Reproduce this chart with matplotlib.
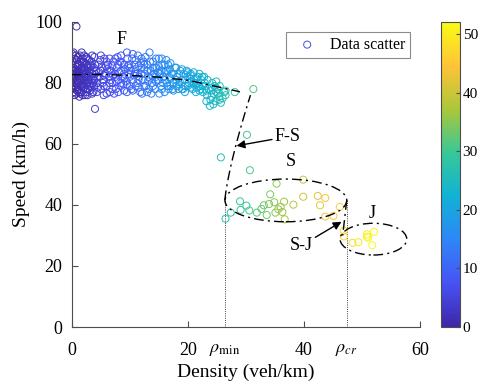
import numpy as np
import matplotlib
matplotlib.use("Agg")
import matplotlib.pyplot as plt
from matplotlib.colors import LinearSegmentedColormap, Normalize
from matplotlib.patches import Ellipse
from matplotlib.transforms import blended_transform_factory

plt.rcParams['font.family'] = ['Liberation Serif', 'DejaVu Serif']
plt.rcParams['mathtext.fontset'] = 'stix'

# ---------------- data ----------------
density_F = [0.2,0.3,0.4,0.5,0.6,0.7,0.8,0.9,1.0,1.1,1.2,1.3,1.4,1.5,1.6,1.7,1.8,1.9,2.0,2.1,2.2,2.3,2.4,2.5,2.6,2.7,2.8,2.9,3.0,3.1,3.2,3.3,3.4,3.5,3.6,3.7,3.8,3.9,4.0,
             0.1,0.3,0.5,0.7,0.9,1.1,1.3,1.5,1.7,1.9,2.1,2.3,2.5,2.7,2.9,3.1,3.3,3.5,3.7,3.9,
             0.2,0.4,0.6,0.8,1.0,1.2,1.4,1.6,1.8,2.0,2.2,2.4,2.6,2.8,3.0,3.2,3.4,3.6,3.8,0.0,0.0,0.1,
             4.2,4.4,4.6,4.8,5.0,5.2,5.4,5.6,5.8,6.0,6.2,6.4,6.6,6.8,7.0,7.2,7.4,7.6,7.8,8.0,8.2,8.4,8.6,8.8,9.0,9.2,9.4,9.6,9.8,10.0,
             4.3,4.9,5.5,6.1,6.7,7.3,7.9,8.5,9.1,9.7,4.7,5.3,5.9,6.5,7.1,7.7,8.3,8.9,9.5,9.9,
             10.2,10.4,10.6,10.8,11.0,11.2,11.4,11.6,11.8,12.0,12.2,12.4,12.6,12.8,13.0,13.2,13.4,13.6,13.8,14.0,14.2,14.4,14.6,14.8,15.0,15.2,15.4,15.6,15.8,16.0,16.2,16.4,16.6,16.8,17.0,
             10.3,10.9,11.5,12.1,12.7,13.3,13.9,14.5,15.1,15.7,16.3,16.9,10.7,11.3,11.9,12.5,13.1,13.7,14.3,14.9,15.5,16.1,16.7,
             17.2,17.5,17.8,18.1,18.4,18.7,19.0,19.3,19.6,19.9,20.2,20.5,20.8,21.1,21.4,21.7,22.0,22.3,22.6,22.9,
             17.4,18.0,18.6,19.2,19.8,20.4,21.0,21.6,22.2,22.8,
             23.0,23.3,23.6,23.9,24.2,24.5,24.8,25.1,25.4,25.7,23.4,24.0,24.6,25.2,26.0,26.3,23.8,24.4,28.1,31.3]
speed_F = [82,85,79,88,83,76.5,98.5,81,86,78,84,80,89,82,77,85,83,79,87,81,84,76,82,86,80,83,78,85,81,84,79,82,87,80,83,77,85,81,71.5,
           89.5,77,80.5,84.5,87.5,82.5,75.5,79,90,83.5,78.5,86.5,79.5,88,82.5,77.5,85.5,83,80,88.5,
           84,81.5,86,79.5,83,77,81,84.5,86.5,80,82,78,84,81,83.5,86,78.5,81.5,79,85,80,83,
           84,80,86,82,78,85,81,88,83,79,86,82,77,84,80,87,83,78,85,81,83.5,79,86.5,82,77.5,84.5,80.5,88,83,79,
           77,87.5,76,84.5,81,76.5,88.5,84,81.5,85.5,83.5,80,85.5,88,82.5,80.5,87,79.5,77,86,
           84,88,81,86,79,83,89,82,77,85,81,87,83,79,86,82,90,84,80,87,83,78,85,81,88,83,79,86,82,77,84,80,86,82,79,
           78,83,85.5,76.5,88.5,78,82.5,88,76.5,80,87.5,84.5,82.5,80,86.5,84.5,80.5,76.5,85,83.5,84,81,78,
           83,80,85,82,78,84,81,83,79,82,80,83,78,81,77,82,79,81,77,80,
           78,79,80.5,78,84,81.5,79.5,80,78,82,
           79,76,78,74.5,80,76.5,74,78,75.5,73.5,81,77.5,79,76.5,75,77,72.5,73,77,78]

density_F2 = [0.1,0.1,0.3,0.3,0.5,0.5,0.7,0.7,0.9,0.9,1.1,1.1,1.3,1.3,1.5,1.5,1.7,1.7,1.9,1.9,
              2.1,2.1,2.3,2.3,2.5,2.5,2.7,2.7,3.0,3.0,3.5,3.5,4.0,4.0,4.5,4.5,5.0,5.0,5.5,5.5,
              6.0,6.0,6.5,6.5,7.0,7.0,7.5,7.5,8.0,8.0,8.5,8.5,9.0,9.0,9.5,9.5,10.0,10.0,10.5,10.5,
              11.0,11.0,11.5,11.5,12.0,12.0,12.5,12.5,13.0,13.0,13.5,13.5,14.0,14.0,14.5,14.5,15.0,15.0,15.5,15.5,
              16.0,16.0,16.5,16.5,17.0,17.0,17.5,17.5,18.0,18.0,18.5,18.5,19.0,19.0,19.5,19.5,20.0,20.0,20.5,20.5,
              21.0,21.0,21.5,21.5,22.0,22.0,22.5,22.5,23.2,23.2,24.1,24.1,24.9,24.9,25.5,25.5,26.5,26.5]
speed_F2 = [78,87,90,82.5,76,84,89,80,77.5,84,88.5,80,86,83.5,76.5,87,81,79.5,88,76,
            85,89,80.5,83,77,88.5,76,85.5,87.5,79,89,76.5,83,86,78.5,82,89,84,82.5,79,
            76.5,87,80,84,85.5,78,82,88,77,86,80,89,83,86,79.5,90,85,82,77.5,89.5,
            84.5,87.5,78.5,81,88,83,79,86,84,77,81.5,87,79,85,82,80.5,85.5,81,78,88,
            83.5,86,79,84,81.5,86.5,83,77.5,85,81,79.5,83,78,84.5,81,77,83.5,79,78.5,82.5,
            80,83.5,78.5,81.5,83,77.5,79,82,77.5,74,75.5,78.5,77,80.5,79,74.5,76,77.5]

density_S = [30.2,25.7,30.7,35.3,39.9,34.2,39.9,42.4,43.7,29.0,30.1,29.1,30.6,31.9,32.7,33.1,34.0,34.9,
             33.6,35.1,35.6,36.0,36.6,36.3,36.7,38.2,42.8,46.2,43.7,45.1,27.4,26.5,46.9,46.9]
speed_S = [63.0,55.6,51.4,47.0,48.3,43.5,42.7,43.0,42.3,41.2,39.8,38.4,38.2,37.5,38.7,39.9,40.3,40.9,
           36.7,37.5,38.6,39.4,41.1,37.7,35.3,40.1,39.9,39.4,36.2,36.4,37.5,35.5,31.6,29.7]
density_J = [48.4,49.4,50.9,51.1,52.1,51.8,50.9]
speed_J = [27.6,27.8,30.4,29.3,31.2,26.8,29.6]

# annotation geometry (data units)
f_line_x = [0, 5, 10, 15, 20, 25, 29]
f_line_y = [82.7, 82.8, 82.5, 81.9, 80.9, 78.8, 77.1]
rho_min = 26.4
rho_cr = 47.4
s_ellipse = (36.9, 41.5, 21.0, 14.0)   # cx, cy, width, height
j_ellipse = (52.0, 28.8, 11.5, 10.4)

# ---------------- parula colormap (MATLAB parula(8)) ----------------
parula_cols = [(0.2422, 0.1504, 0.6603), (0.2810, 0.3228, 0.9579), (0.1786, 0.5289, 0.9682),
               (0.0689, 0.6948, 0.8394), (0.2161, 0.7843, 0.5923), (0.6720, 0.7793, 0.2227),
               (0.9970, 0.7659, 0.2199), (0.9769, 0.9839, 0.0805)]
parula = LinearSegmentedColormap.from_list('parula', parula_cols)

dens = np.array(density_F + density_F2 + density_S + density_J)
spd = np.array(speed_F + speed_F2 + speed_S + speed_J)
norm = Normalize(vmin=0, vmax=dens.max())

fig = plt.figure(figsize=(4.82, 3.81), dpi=100)
ax = fig.add_axes([0.149, 0.1417, 0.722, 0.8007])
cax = fig.add_axes([0.915, 0.1417, 0.039, 0.8007])

ax.scatter(dens, spd, s=26, facecolors='none', edgecolors=parula(norm(dens)),
           linewidths=0.7, label='Data scatter', zorder=2)

dash = (0, (7, 3, 1.5, 3))
ax.plot(f_line_x, f_line_y, color='black', lw=1.0, linestyle=dash, zorder=3)

fs_y = np.linspace(41.6, 76, 60)
fs_x = rho_min + 4.4 * ((fs_y - 41.6) / 34.4) ** 1.3
ax.plot(fs_x, fs_y, color='black', lw=1.0, linestyle=dash, zorder=3)

ax.plot([rho_cr, 46.7], [41.6, 30.0], color='black', lw=1.0, linestyle=dash, zorder=3)

for (cx, cy, w, h) in (s_ellipse, j_ellipse):
    ax.add_patch(Ellipse((cx, cy), w, h, fill=False, edgecolor='black', lw=1.0,
                         linestyle=dash, zorder=3))

ax.plot([rho_min, rho_min], [0, 41.6], color='black', lw=0.6, linestyle=':', zorder=1)
ax.plot([rho_cr, rho_cr], [0, 41.6], color='black', lw=0.6, linestyle=':', zorder=1)

fs = 13
ax.text(8.5, 94.4, 'F', fontsize=fs, ha='center', va='center')
ax.text(37.8, 54.4, 'S', fontsize=fs, ha='center', va='center')
ax.text(51.8, 37.3, 'J', fontsize=fs, ha='center', va='center')
ax.annotate('F-S', xy=(28.4, 59.4), xytext=(35.0, 62.4), fontsize=fs, ha='left', va='center',
            arrowprops=dict(arrowstyle='-|>', color='black', lw=1.0, mutation_scale=12,
                            shrinkA=0, shrinkB=0))
ax.annotate('S-J', xy=(46.5, 34.5), xytext=(41.5, 26.6), fontsize=fs, ha='right', va='center',
            arrowprops=dict(arrowstyle='-|>', color='black', lw=1.0, mutation_scale=12,
                            shrinkA=0, shrinkB=0))

ax.set_xlim(0, 60)
ax.set_ylim(0, 100)
ax.set_xticks([0, 20, 40, 60])
ax.set_yticks([0, 20, 40, 60, 80, 100])
axcol = '#4d4d4d'
for side in ('top', 'right'):
    ax.spines[side].set_visible(False)
for side in ('left', 'bottom'):
    ax.spines[side].set_color(axcol)
    ax.spines[side].set_linewidth(0.8)
ax.tick_params(direction='in', length=4, width=0.8, colors=axcol, labelcolor='black',
               labelsize=13)
ax.tick_params(axis='x', pad=11)
ax.tick_params(axis='y', pad=7)

tr = blended_transform_factory(ax.transData, ax.transAxes)
ax.text(rho_min, -0.045, r'$\rho_{\mathrm{min}}$', transform=tr, ha='center', va='top', fontsize=13)
ax.text(rho_cr, -0.045, r'$\rho_{cr}$', transform=tr, ha='center', va='top', fontsize=13)

ax.set_xlabel('Density (veh/km)', fontsize=14, labelpad=3)
ax.set_ylabel('Speed (km/h)', fontsize=14, labelpad=4)

leg = ax.legend(loc='upper right', bbox_to_anchor=(0.971, 0.967), fontsize=11.5, frameon=True,
                fancybox=False, edgecolor='#6d6d6d', handletextpad=0.4, borderpad=0.3,
                borderaxespad=0, scatterpoints=1)
leg.get_frame().set_linewidth(0.8)
leg.legend_handles[0].set_edgecolor(parula(0.12))

cb = fig.colorbar(plt.cm.ScalarMappable(norm=norm, cmap=parula), cax=cax)
cb.set_ticks([0, 10, 20, 30, 40, 50])
cb.outline.set_edgecolor(axcol)
cb.outline.set_linewidth(0.8)
cax.tick_params(direction='in', length=3, width=0.8, colors=axcol, labelcolor='black',
                labelsize=11, pad=2)

fig.savefig('out.png', dpi=100)
